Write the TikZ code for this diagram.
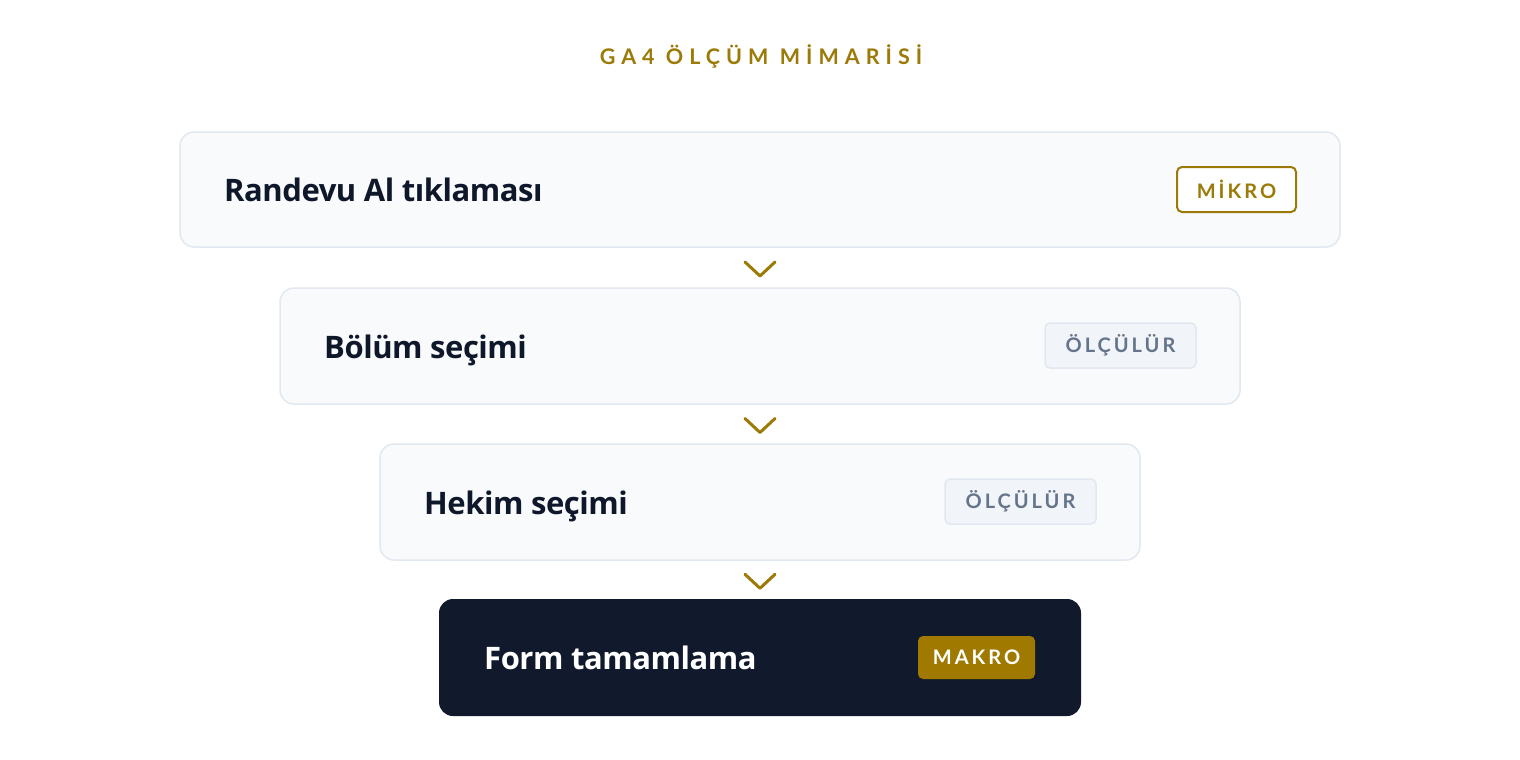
\documentclass[tikz,border=0pt]{standalone}
\usepackage{fontspec}
\setmainfont{Lato}
\newfontfamily\mainbold[LetterSpace=-1.5]{Open Sans}
\newfontfamily\titlefont[LetterSpace=28]{Lato Bold}
\newfontfamily\tagfont[LetterSpace=15]{Lato Bold}
\usetikzlibrary{calc}
\definecolor{gold}{HTML}{9C7A08}
\definecolor{goldfill}{HTML}{A07A00}
\definecolor{boxfill}{HTML}{F8FAFC}
\definecolor{boxline}{HTML}{E2E8F0}
\definecolor{ink}{HTML}{0F172A}
\definecolor{dark}{HTML}{111A2C}
\definecolor{tagfill}{HTML}{F1F4F8}
\definecolor{taggray}{HTML}{64748B}
\tikzset{
  stepbox/.style={draw=boxline, fill=boxfill, line width=1.5pt, rounded corners=14pt, inner sep=0pt},
  darkbox/.style={draw=none, fill=dark, rounded corners=14pt, inner sep=0pt},
  steplabel/.style={anchor=base west, inner sep=0pt, text=ink, font=\mainbold\bfseries\fontsize{31}{37}\selectfont},
  tagbase/.style={inner sep=0pt, rounded corners=5pt, minimum height=45pt, font=\tagfont\fontsize{20}{24}\selectfont},
  tagmikro/.style={tagbase, draw=gold, line width=2pt, fill=white, text=gold},
  tagolc/.style={tagbase, draw=boxline, line width=1.5pt, fill=tagfill, text=taggray},
  tagmakro/.style={tagbase, fill=goldfill, text=white, minimum height=43pt},
  chev/.style={draw=gold, line width=3pt, line cap=round, line join=round},
}
\begin{document}
\begin{tikzpicture}[x=1pt,y=-1pt]
\useasboundingbox[fill=white] (0,0) rectangle (1520,760);
\node[inner sep=0pt, text=gold, font=\titlefont\fontsize{21.5}{25}\selectfont] (title) at (761,56) {GA4 ÖLÇÜM MİMARİSİ};

\node[stepbox, minimum width=1160pt, minimum height=115pt] (b1) at (760,189.5) {};
\node[stepbox, minimum width=960pt, minimum height=116pt] (b2) at (760,346) {};
\node[stepbox, minimum width=760pt, minimum height=116pt] (b3) at (760,502) {};
\node[darkbox, minimum width=642pt, minimum height=117pt] (b4) at (760,657.5) {};

\node[steplabel] (t1) at (224,201) {Randevu Al tıklaması};
\node[steplabel] (t2) at (324,358) {Bölüm seçimi};
\node[steplabel] (t3) at (424,514) {Hekim seçimi};
\node[steplabel, text=white] (t4) at (484,669) {Form tamamlama};

\node[tagmikro, minimum width=119pt] (g1) at (1236.5,189.5) {MİKRO};
\node[tagolc, minimum width=151pt] (g2) at (1120.5,345.5) {ÖLÇÜLÜR};
\node[tagolc, minimum width=151pt] (g3) at (1020.5,501.5) {ÖLÇÜLÜR};
\node[tagmakro, minimum width=117pt] (g4) at (976.5,657.5) {MAKRO};

\foreach \a/\b in {b1/b2, b2/b3, b3/b4}{
  \coordinate (m) at ($(\a.south)!0.5!(\b.north)+(0,1.5)$);
  \draw[chev] ($(m)+(-15,-7)$) -- ($(m)+(0,7)$) -- ($(m)+(15,-7)$);
}
\end{tikzpicture}
\end{document}
